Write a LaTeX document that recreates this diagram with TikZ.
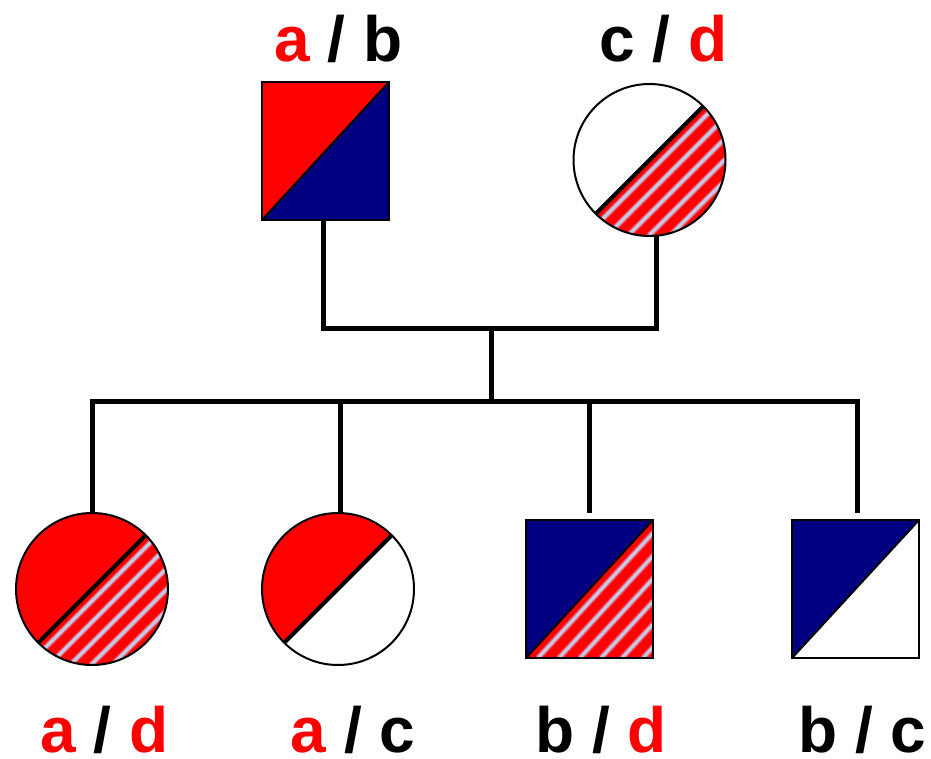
\documentclass[tikz,border=0pt]{standalone}
\usepackage{fontspec}
\setmainfont{Liberation Sans}
\usepackage{tikz}

\definecolor{navy}{RGB}{0,0,128}
\definecolor{stripe}{RGB}{200,198,228}

\tikzset{
  person/.style={draw, line width=2pt, inner sep=0pt, outer sep=0pt},
  male/.style={person, rectangle, minimum width=127pt, minimum height=138pt, divider/.style={line width=2pt}},
  female/.style={person, circle, minimum size=152pt, divider/.style={line width=4pt}},
  % two plain halves, split along the rising diagonal
  halves/.style 2 args={path picture={
    \fill[#1] (path picture bounding box.south west) |- (path picture bounding box.north east) -- cycle;
    \fill[#2] (path picture bounding box.south west) -| (path picture bounding box.north east) -- cycle;
    \draw[divider] (path picture bounding box.south west) -- (path picture bounding box.north east);}},
  % lower half red with light stripes
  halvesstriped/.style={path picture={
    \fill[#1] (path picture bounding box.south west) |- (path picture bounding box.north east) -- cycle;
    \begin{scope}
      \clip (path picture bounding box.south west) -| (path picture bounding box.north east) -- cycle;
      \fill[red] (path picture bounding box.south west) rectangle (path picture bounding box.north east);
      \foreach \k in {12,33,...,170} {
        \draw[line width=6pt, stripe!40!red] ([xshift=\k pt]path picture bounding box.south west) -- ([xshift=\k pt]path picture bounding box.north east);
        \draw[line width=3.2pt, stripe] ([xshift=\k pt]path picture bounding box.south west) -- ([xshift=\k pt]path picture bounding box.north east);
      }
    \end{scope}
    \draw[divider] (path picture bounding box.south west) -- (path picture bounding box.north east);}},
  tag/.style={font=\bfseries\fontsize{64}{64}\selectfont, inner sep=0pt, anchor=base},
  link/.style={line width=5pt, black}
}

\begin{document}
\begin{tikzpicture}[x=1pt,y=-1pt]
\useasboundingbox (0,0) rectangle (931,759);

% parents
\node[male, halves={red}{navy}] (dad) at (325,151.5) {};
\node[female, halvesstriped=white] (mum) at (649.5,160) {};
\node[tag] (dadtag) at (338.5,62) {\textcolor{red}{a} / b};
\node[tag] (mumtag) at (663.5,62) {c / \textcolor{red}{d}};

% children
\node[female, halvesstriped=red] (kid1) at (92,589) {};
\node[female, halves={red}{white}] (kid2) at (338,589) {};
\node[male, halvesstriped=navy] (kid3) at (589.5,589) {};
\node[male, halves={navy}{white}] (kid4) at (855.5,589) {};
\node[tag] (kid1tag) at (104.5,752) {\textcolor{red}{a} / \textcolor{red}{d}};
\node[tag] (kid2tag) at (353,752) {\textcolor{red}{a} / c};
\node[tag] (kid3tag) at (601,752) {b / \textcolor{red}{d}};
\node[tag] (kid4tag) at (862.5,752) {b / c};

% lines of descent
\coordinate (mate) at (491,328);
\coordinate (sibs) at (491,401);
\draw[link] ([xshift=-2pt]dad.south) |- (mate) -| (mum.-85);
\draw[link] (mate) -- (sibs);
\draw[link] (sibs) -| (kid1.north);
\draw[link] (sibs) -| ([xshift=2pt]kid2.north);
\draw[link] (sibs) -| ([yshift=7pt]kid3.north);
\draw[link] (sibs) -| ([xshift=1.5pt,yshift=7pt]kid4.north);
\end{tikzpicture}
\end{document}
